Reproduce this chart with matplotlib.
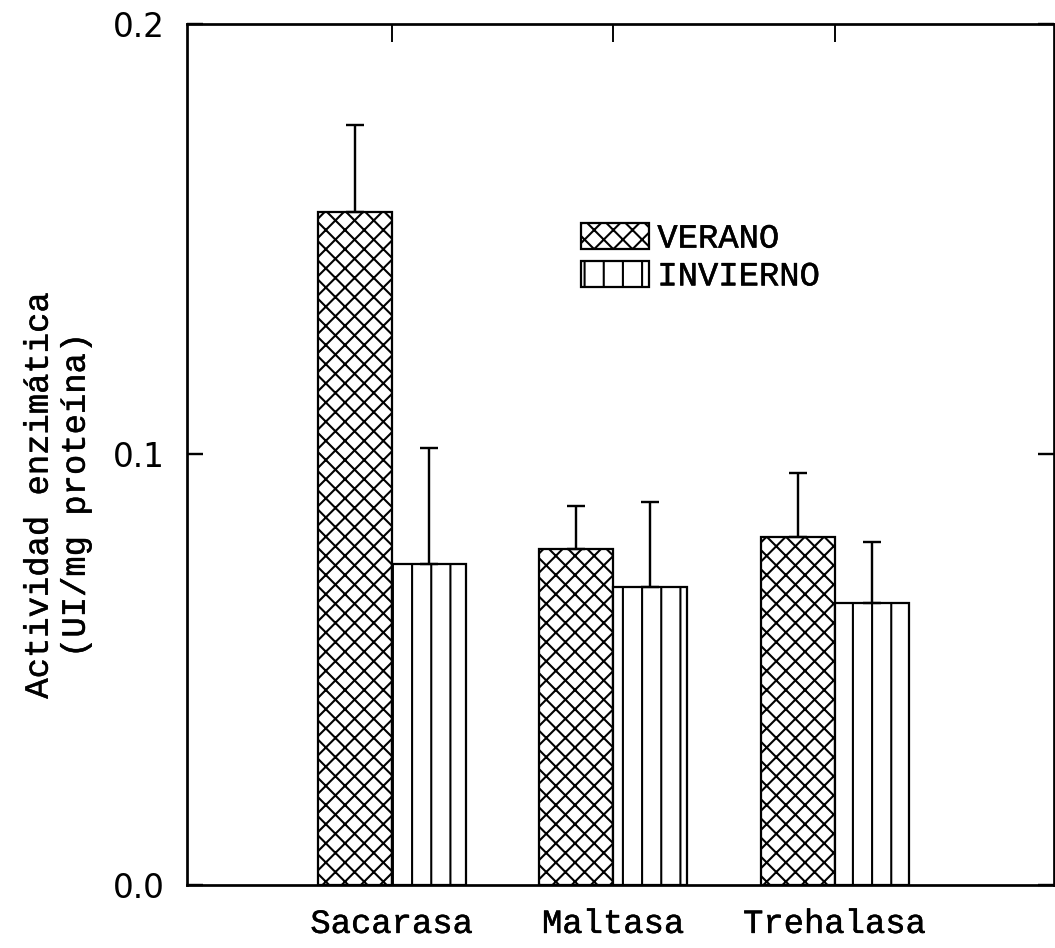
import numpy as np
import matplotlib
matplotlib.use("Agg")
import matplotlib.pyplot as plt
import matplotlib.patheffects as pe
from matplotlib.patches import Patch

# Enzyme activity (UI/mg protein), summer vs winter
enzymes = ["Sacarasa", "Maltasa", "Trehalasa"]
verano = [0.1563, 0.0780, 0.0808]
verano_err = [0.0202, 0.0100, 0.0149]
invierno = [0.0746, 0.0692, 0.0655]
invierno_err = [0.0269, 0.0198, 0.0142]
yticks = [0.0, 0.1, 0.2]
ytick_labels = ["0.0", "0.1", "0.2"]

DPI = 115
plt.rcParams["hatch.linewidth"] = 1.3
plt.rcParams["hatch.color"] = "black"

fig = plt.figure(figsize=(1055 / DPI, 948 / DPI), dpi=DPI)
ax = fig.add_axes([0.1773, 0.0665, 0.8217, 0.9082])

x = np.arange(1, len(enzymes) + 1)
w = 0.335
mono = "Liberation Mono"
fs = 21.2
# courier is a bit thin compared with the scanned typewriter text
thick = [pe.withStroke(linewidth=0.3, foreground="black")]

ax.bar(x - w / 2, verano, w, color="white", edgecolor="black", linewidth=1.4,
       hatch="xx")
ax.bar(x + w / 2, invierno, w, color="white", edgecolor="black", linewidth=1.4,
       hatch="|")
ax.errorbar(x - w / 2, verano, yerr=[np.zeros(3), verano_err], fmt="none",
            ecolor="black", elinewidth=1.5, capsize=5.5, capthick=1.5)
ax.errorbar(x + w / 2, invierno, yerr=[np.zeros(3), invierno_err], fmt="none",
            ecolor="black", elinewidth=1.5, capsize=5.5, capthick=1.5)

ax.set_xlim(0.075, 3.99)
ax.set_ylim(0, 0.2)
ax.set_yticks(yticks)
ax.set_yticklabels(ytick_labels, fontsize=20.5, family="DejaVu Sans")
ax.set_xticks(x)
ax.set_xticklabels(enzymes, fontsize=fs, family=mono, path_effects=thick)
ax.tick_params(axis="x", which="both", top=True, bottom=False, direction="in",
               length=11, width=1.2, pad=15)
ax.tick_params(axis="y", which="both", left=True, right=True, direction="in",
               length=10, width=1.5, pad=14)
for s in ax.spines.values():
    s.set_linewidth(1.7)

ax.set_ylabel("Actividad enzimática\n(UI/mg proteína)", fontsize=fs,
              family=mono, linespacing=1.25, path_effects=thick)
ax.yaxis.set_label_coords(-0.11, 0.453)

handles = [Patch(facecolor="white", edgecolor="black", hatch="xx", linewidth=1.4),
           Patch(facecolor="white", edgecolor="black", hatch="|", linewidth=1.4)]
leg = ax.legend(handles, ["VERANO", "INVIERNO"], loc="upper left",
                bbox_to_anchor=(0.455, 0.769), frameon=False, borderpad=0,
                borderaxespad=0, handlelength=2.0, handleheight=0.8,
                handletextpad=0.24, labelspacing=0.18,
                prop={"family": mono, "size": fs})
for t in leg.get_texts():
    t.set_path_effects(thick)

fig.savefig("out.png", dpi=DPI)
